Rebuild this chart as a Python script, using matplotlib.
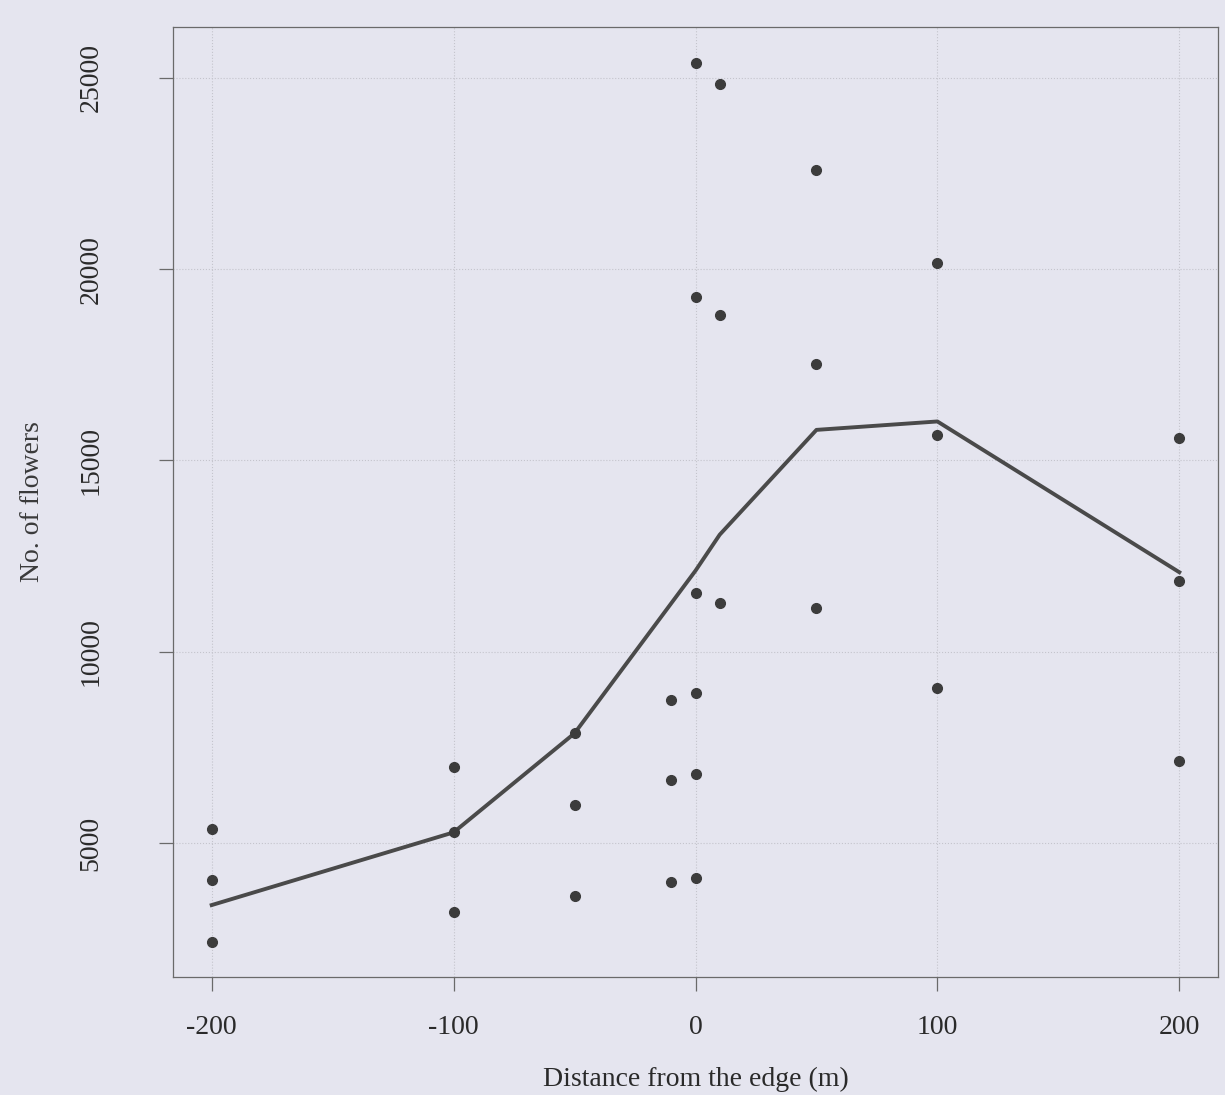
import matplotlib
matplotlib.use('Agg')
import matplotlib.pyplot as plt

# distance from the edge (m) and flower counts per plot
dist = [-200, -200, -200,
        -100, -100, -100,
        -50, -50, -50,
        -10, -10, -10,
        0, 0, 0, 0, 0, 0,
        10, 10, 10,
        50, 50, 50,
        100, 100, 100,
        200, 200, 200]
flowers = [5360, 4030, 2410,
           6990, 5280, 3210,
           7870, 5990, 3630,
           8730, 6640, 3990,
           25400, 19260, 11530, 8930, 6800, 4090,
           24850, 18800, 11280,
           22580, 17510, 11150,
           20170, 15670, 9050,
           15580, 11860, 7140]

# fitted trend
fit_x = [-200, -100, -50, 0, 10, 50, 100, 200]
fit_y = [3380, 5280, 7870, 12120, 13060, 15800, 16020, 12080]

xticks = [-200, -100, 0, 100, 200]
yticks = [5000, 10000, 15000, 20000, 25000]

paper = '#e5e5ef'
ink = '#3c3c3c'

plt.rcParams['font.family'] = ['Liberation Serif', 'DejaVu Serif']

fig = plt.figure(figsize=(12.25, 10.95), dpi=100, facecolor=paper)
ax = fig.add_axes([173/1225, 1 - 977/1095, (1218-173)/1225, (977-27)/1095])
ax.set_facecolor(paper)

for xv in xticks:
    ax.axvline(xv, color='#c4c4cc', lw=0.8, ls=':', zorder=0)
for yv in yticks:
    ax.axhline(yv, color='#c4c4cc', lw=0.8, ls=':', zorder=0)

ax.plot(fit_x, fit_y, color='#4a4a4a', lw=2.8, zorder=2)
ax.plot(dist, flowers, 'o', color=ink, ms=7, mec=ink, zorder=3)

ax.set_xlim(-216, 216)
ax.set_ylim(1500, 26330)
ax.set_xticks(xticks)
ax.set_xticklabels([str(v) for v in xticks])
ax.set_yticks(yticks)
ax.set_yticklabels([str(v) for v in yticks], rotation=90, va='center')

for s in ax.spines.values():
    s.set_color('#6a6a6a')
    s.set_linewidth(0.9)
ax.tick_params(axis='both', colors='#6a6a6a', labelcolor='#2a2a2a',
               length=10, width=0.9, labelsize=20)
ax.tick_params(axis='x', pad=17)
ax.tick_params(axis='y', pad=40)

ax.set_xlabel('Distance from the edge (m)', fontsize=20, color='#2a2a2a',
              labelpad=20)
ax.set_ylabel('No. of flowers', fontsize=20, color='#3a3a3a', labelpad=24)

fig.savefig('out.png', dpi=100, facecolor=paper)
